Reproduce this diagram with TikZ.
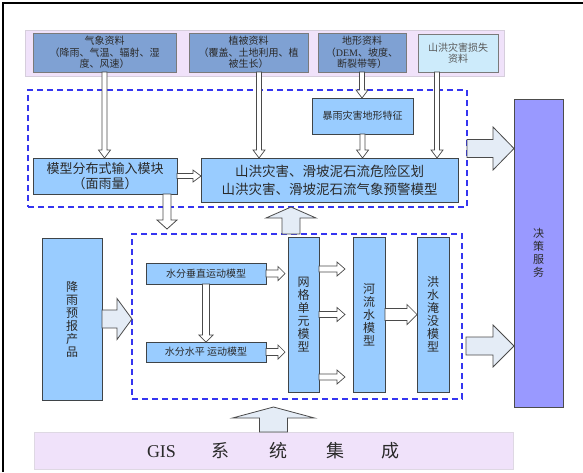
\documentclass[tikz,border=0pt]{standalone}
\usepackage{fontspec}
\setmainfont{Liberation Serif}
\newfontfamily\cjk{Noto Sans CJK SC}
\usetikzlibrary{calc}
\definecolor{bandpink}{HTML}{F0E2FA}
\definecolor{bandedge}{HTML}{D6CEDC}
\definecolor{datablue}{HTML}{7FA1D3}
\definecolor{dataedge}{HTML}{7A7A7A}
\definecolor{lightcyan}{HTML}{CDEBFB}
\definecolor{modelblue}{HTML}{99CCFF}
\definecolor{modeledge}{HTML}{3F4448}
\definecolor{decblue}{HTML}{9999FF}
\definecolor{dashblue}{HTML}{3535F0}
\definecolor{arrowfill}{HTML}{E4ECF6}
\definecolor{arrowedge}{HTML}{4A4A4A}
\definecolor{txt}{HTML}{2A2A2A}
\newcommand\mybox[7]{\node[#1, anchor=north west, minimum width={(#5-#3)*1pt}, minimum height={(#6-#4)*1pt}] (#2) at (#3,#4) {#7};}
\newcommand\harrow[6][]{%
  \coordinate (hA) at (#2);
  \coordinate (hB) at (#3);
  \coordinate (hP) at ($(hB)!#6!(hA)$);
  \draw[smallarrow,#1] ($(hA)!#4!90:(hB)$) -- ($(hP)!#4!90:(hB)$) -- ($(hP)!#5!90:(hB)$) -- (hB)
    -- ($(hP)!#5!-90:(hB)$) -- ($(hP)!#4!-90:(hB)$) -- ($(hA)!#4!-90:(hB)$) -- cycle;}
\tikzset{
  band/.style={draw=bandedge, fill=bandpink, line width=0.8pt, inner sep=0pt, outer sep=0pt},
  databox/.style={draw=dataedge, fill=datablue, line width=0.9pt, inner sep=0pt, outer sep=0pt, align=center, text=txt, font=\cjk\fontsize{10}{11.5}\selectfont},
  modelbox/.style={draw=modeledge, fill=modelblue, line width=0.9pt, inner sep=0pt, outer sep=0pt, align=center, text=txt},
  dashbox/.style={draw=dashblue, dash pattern=on 6pt off 4pt, line width=1.1pt, inner sep=0pt, outer sep=0pt},
  smallarrow/.style={draw=arrowedge, fill=white, line width=0.7pt, line join=miter},
  bigarrow/.style={draw=arrowedge, fill=arrowfill, line width=0.8pt, line join=miter},
  vtext/.style={font=\cjk\fontsize{12}{13}\selectfont}
}
\begin{document}
\begin{tikzpicture}[x=1pt,y=-1pt]
\useasboundingbox (0,0) rectangle (583,472);
\draw[line width=2pt] (3,472) -- (3,3) -- (583,3);

% top data band
\mybox{band}{topband}{25}{30}{504}{76}{}
\mybox{databox}{d1}{33}{33}{176}{72}{气象资料\\（降雨、气温、辐射、湿\\度、风速）}
\mybox{databox}{d2}{189}{33}{308}{72}{植被资料\\（覆盖、土地利用、植\\被生长）}
\mybox{databox}{d3}{318}{33}{406}{72}{地形资料\\（{\rmfamily DEM}、坡度、\\断裂带等）}
\mybox{databox, fill=lightcyan, text=black!65}{d4}{418}{34}{498}{72}{山洪灾害损失\\资料}

% upper dashed group
\mybox{dashbox}{dash1}{28}{90}{467}{207}{}
\mybox{modelbox, font=\cjk\fontsize{10}{12}\selectfont}{feat}{312}{98}{413}{134}{暴雨灾害地形特征}
\mybox{modelbox, font=\cjk\fontsize{13}{15}\selectfont}{inp}{33}{158}{177}{194}{模型分布式输入模块\\（面雨量）}
\mybox{modelbox, font=\cjk\fontsize{13.5}{18}\selectfont}{big}{201}{158}{458}{202}{山洪灾害、滑坡泥石流危险区划\\山洪灾害、滑坡泥石流气象预警模型}

% lower dashed group
\mybox{dashbox}{dash2}{132}{234}{462}{399}{}
\mybox{modelbox, vtext}{rain}{42}{238}{102}{400}{降\\雨\\预\\报\\产\\品}
\mybox{modelbox, font=\cjk\fontsize{10}{12}\selectfont}{vert}{146}{263}{266}{284}{水分垂直运动模型}
\mybox{modelbox, font=\cjk\fontsize{10}{12}\selectfont}{horiz}{146}{342}{266}{362}{水分水平 运动模型}
\mybox{modelbox, vtext}{grid}{288}{237}{319}{392}{网\\格\\单\\元\\模\\型}
\mybox{modelbox, vtext}{river}{353}{237}{385}{392}{河\\流\\水\\模\\型}
\mybox{modelbox, vtext}{flood}{417}{237}{449}{392}{洪\\水\\淹\\没\\模\\型}

% decision service
\mybox{modelbox, fill=decblue, draw=black!70, font=\cjk\fontsize{11}{13}\selectfont}{dec}{514}{99}{563}{407}{决\\策\\服\\务}

% GIS band
\mybox{band, draw=bandedge!80, text=txt}{gis}{34}{432}{513}{469}{{\fontsize{18}{20}\selectfont GIS}\hspace{35pt}{\cjk\fontsize{18}{20}\selectfont 系}\hspace{40pt}{\cjk\fontsize{18}{20}\selectfont 统}\hspace{40pt}{\cjk\fontsize{18}{20}\selectfont 集}\hspace{37pt}{\cjk\fontsize{18}{20}\selectfont 成}}

% arrows from data boxes
\harrow{d1.south}{d1.south |- inp.north}{2.5pt}{6pt}{8pt}
\coordinate (a2) at ([xshift=10.5pt]d2.south);
\harrow{a2}{a2 |- big.north}{2.5pt}{6pt}{8pt}
\harrow{d3.south}{d3.south |- feat.north}{2.5pt}{6pt}{8pt}
\harrow{feat.south}{feat.south |- big.north}{2.5pt}{6pt}{8pt}
\coordinate (a4) at ([xshift=-21pt]d4.south);
\harrow{a4}{a4 |- big.north}{2.5pt}{6pt}{8pt}

% upper group arrows
\harrow{inp.east}{inp.east -| big.west}{2.5pt}{6pt}{8pt}
\coordinate (c1) at ([xshift=62pt]inp.south);
\coordinate (c1e) at (c1 |- dash2.north);
\harrow[bigarrow, fill=white]{c1}{[yshift=5pt]c1e}{4pt}{10pt}{9pt}
\coordinate (u1) at ([xshift=-38.5pt]big.south);
\harrow[bigarrow]{u1 |- dash2.north}{u1 |- dash1.south}{9pt}{25pt}{11pt}
\harrow[bigarrow]{dash1.east}{dash1.east -| dec.west}{9pt}{21.5pt}{21pt}

% lower group arrows
\harrow[bigarrow]{rain.east}{rain.east -| dash2.west}{9pt}{20.5pt}{15pt}
\coordinate (v1) at ([xshift=-3pt]vert.east -| grid.west);
\harrow{vert.east}{v1}{3.5pt}{7pt}{7pt}
\coordinate (h1) at ([xshift=-3pt]horiz.east -| grid.west);
\harrow{horiz.east}{h1}{3.5pt}{7pt}{7pt}
\harrow{vert.south}{horiz.north}{3.5pt}{7pt}{7pt}
\coordinate (g1) at ([yshift=45.5pt]grid.east);
\coordinate (g1e) at ([xshift=-8pt]g1 -| river.west);
\harrow{g1}{g1e}{3pt}{7pt}{8pt}
\coordinate (g2e) at ([xshift=-8pt]grid.east -| river.west);
\harrow{grid.east}{g2e}{3pt}{7pt}{8pt}
\coordinate (g3) at ([yshift=-62.5pt]grid.east);
\coordinate (g3e) at ([xshift=-8pt]g3 -| river.west);
\harrow{g3}{g3e}{3pt}{7pt}{8pt}
\harrow{river.east}{river.east -| flood.west}{6pt}{10pt}{10pt}
\coordinate (o2) at ([xshift=4pt,yshift=-29.5pt]dash2.east);
\harrow[bigarrow]{o2}{o2 -| dec.west}{9pt}{21pt}{21pt}
\coordinate (gtip) at ([yshift=-8pt]gis.north |- dash2.south);
\harrow[bigarrow]{gis.north}{gtip}{14pt}{41pt}{11pt}
\end{tikzpicture}
\end{document}
